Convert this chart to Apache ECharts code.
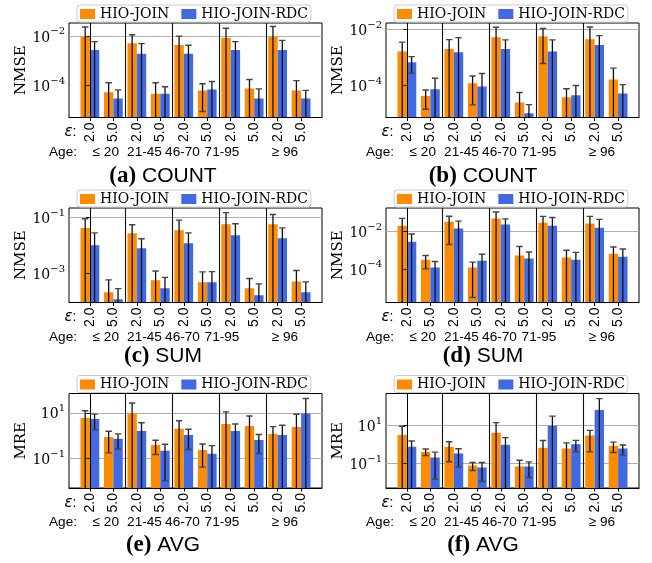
<!DOCTYPE html>
<html><head><meta charset="utf-8">
<script src="https://cdn.jsdelivr.net/npm/echarts@6/dist/echarts.min.js"></script>
<style>html,body{margin:0;padding:0;background:#fff}#c{width:652px;height:563px}</style>
</head><body><div id="c"></div>
<script>
// ---------- data ----------
const methods = ['HIO-JOIN', 'HIO-JOIN-RDC'];
const epsLabels = ['2.0','5.0','2.0','5.0','2.0','5.0','2.0','5.0','2.0','5.0'];
const ageGroups = ['\u2264 20','21-45','46-70','71-95','\u2265 96'];
const panelLetters = ['(a)','(b)','(c)','(d)','(e)','(f)'];
const panelTitles = ['COUNT','COUNT','SUM','SUM','AVG','AVG'];
const yNames = ['NMSE','NMSE','NMSE','NMSE','MRE','MRE'];

// (a) COUNT
const aOrange    = [9.3e-3, 5.4e-5, 5.0e-3, 4.7e-5, 4.3e-3, 6.3e-5, 8.3e-3, 7.6e-5, 9.3e-3, 6.3e-5];
const aOrangeErr = [1.36e-2, 7.5e-5, 6.2e-3, 8.2e-5, 5.5e-3, 5.4e-5, 1.21e-2, 9.8e-5, 1.47e-2, 9.5e-5];
const aBlue      = [2.7e-3, 3.0e-5, 1.9e-3, 4.7e-5, 1.9e-3, 6.9e-5, 2.7e-3, 3.0e-5, 2.7e-3, 3.0e-5];
const aBlueErr   = [3.2e-3, 3.65e-5, 3.0e-3, 4.2e-5, 2.27e-3, 7.6e-5, 3.2e-3, 4.3e-5, 3.9e-3, 3.35e-5];
const aTicks = [1e-2, 1e-4];
const aRange = [Math.pow(10,-5.29), Math.pow(10,-1.48)];

// (b) COUNT
const bOrange    = [1.6e-3, 4.1e-5, 1.95e-3, 1.17e-4, 5.1e-3, 2.45e-5, 5.6e-3, 3.7e-5, 4.4e-3, 1.62e-4];
const bOrangeErr = [1.85e-3, 2.7e-5, 2.3e-3, 9.7e-5, 6.6e-3, 3.05e-5, 5.0e-3, 3.8e-5, 7.6e-3, 2.45e-4];
const bBlue      = [6.6e-4, 7.2e-5, 1.5e-3, 9.1e-5, 1.95e-3, 1.0e-5, 1.6e-3, 4.4e-5, 2.7e-3, 5.1e-5];
const bBlueErr   = [3.9e-4, 1.06e-4, 3.5e-3, 1.7e-4, 2.2e-3, 1.04e-5, 2.55e-3, 5.4e-5, 3.2e-3, 5.4e-5];
const bTicks = [1e-2, 1e-4];
const bRange = [Math.pow(10,-5.15), Math.pow(10,-1.78)];

// (c) SUM
const cOrange    = [4.2e-2, 2.1e-4, 2.75e-2, 5.6e-4, 3.5e-2, 4.8e-4, 5.75e-2, 2.9e-4, 5.75e-2, 5.1e-4];
const cOrangeErr = [4.95e-2, 3.7e-4, 2.8e-2, 6.4e-4, 4.65e-2, 6.4e-4, 9.4e-2, 3.6e-4, 7.1e-2, 7.5e-4];
const cBlue      = [1.02e-2, 1.17e-4, 7.9e-3, 2.9e-4, 1.2e-2, 4.8e-4, 2.3e-2, 1.62e-4, 1.82e-2, 2.1e-4];
const cBlueErr   = [1.8e-2, 1.65e-4, 9.5e-3, 4.2e-4, 1.62e-2, 6.7e-4, 3.7e-2, 2.55e-4, 2.45e-2, 2.8e-4];
const cTicks = [1e-1, 1e-3];
const cRange = [Math.pow(10,-4.05), Math.pow(10,-0.655)];

// (d) SUM
const dOrange    = [2.0e-2, 3.1e-4, 3.3e-2, 1.17e-4, 4.9e-2, 5.1e-4, 2.9e-2, 4.0e-4, 2.6e-2, 6.5e-4];
const dOrangeErr = [2.9e-2, 2.1e-4, 3.1e-2, 1.14e-4, 5.8e-2, 1.04e-3, 3.4e-2, 5.8e-4, 3.7e-2, 8.3e-4];
const dBlue      = [2.8e-3, 1.17e-4, 1.41e-2, 2.75e-4, 2.3e-2, 3.55e-4, 2.0e-2, 3.1e-4, 1.58e-2, 4.5e-4];
const dBlueErr   = [4.4e-3, 1.33e-4, 2.1e-2, 3.3e-4, 2.35e-2, 4.4e-4, 3.5e-2, 4.5e-4, 2.8e-2, 7.0e-4];
const dTicks = [1e-2, 1e-4];
const dRange = [Math.pow(10,-5.79), Math.pow(10,-0.755)];

// (e) AVG
const eOrange    = [5.9, 0.85, 9.8, 0.38, 1.95, 0.23, 3.16, 2.63, 1.17, 2.34];
const eOrangeErr = [6.4, 0.68, 17, 0.237, 2.5, 0.19, 7.8, 4.6, 1.28, 6.2];
const eBlue      = [5.25, 0.71, 1.58, 0.21, 1.05, 0.155, 1.58, 0.63, 1.05, 9.3];
const eBlueErr   = [3.5, 0.46, 2.05, 0.2, 0.81, 0.2, 1.6, 0.47, 1.77, 33];
const eTicks = [1e1, 1e-1];
const eRange = [Math.pow(10,-2.32), Math.pow(10,1.85)];

// (f) AVG
const fOrange    = [3.1, 0.41, 0.74, 0.076, 4.0, 0.068, 0.66, 0.59, 2.9, 0.83];
const fOrangeErr = [5.8, 0.155, 0.62, 0.034, 9.8, 0.077, 0.92, 0.6, 2.5, 0.46];
const fBlue      = [0.74, 0.2, 0.324, 0.06, 0.933, 0.068, 9.55, 1.0, 63, 0.59];
const fBlueErr   = [0.75, 0.185, 0.26, 0.049, 1.3, 0.05, 20.6, 0.6, 188, 0.32];
const fTicks = [1e1, 1e-1];
const fRange = [Math.pow(10,-2.30), Math.pow(10,2.67)];

// ---------- layout ----------
const panels = [
  {o:aOrange, oe:aOrangeErr, b:aBlue, be:aBlueErr, ticks:aTicks, range:aRange},
  {o:bOrange, oe:bOrangeErr, b:bBlue, be:bBlueErr, ticks:bTicks, range:bRange},
  {o:cOrange, oe:cOrangeErr, b:cBlue, be:cBlueErr, ticks:cTicks, range:cRange},
  {o:dOrange, oe:dOrangeErr, b:dBlue, be:dBlueErr, ticks:dTicks, range:dRange},
  {o:eOrange, oe:eOrangeErr, b:eBlue, be:eBlueErr, ticks:eTicks, range:eRange},
  {o:fOrange, oe:fOrangeErr, b:fBlue, be:fBlueErr, ticks:fTicks, range:fRange}
];
const colors = ['#FF8C00', '#4169E1'];
const colLeft = [69, 386], colCenter = [163, 483];
const rowTop = [23, 208, 393.5], captionY = [176, 356, 545];
const plotW = 253, plotH = 94.5;
const xRange = [-0.89, 9.89];
const barW = 0.4;
const sepX = [1.5, 3.5, 5.5, 7.5];
const ageOffsets = [36.8, 75.5, 113.5, 153, 216];
const xIdx = epsLabels.map((_, i) => i);

const serif = 'DejaVu Serif';
const sans = 'Liberation Sans';

function supLabel(v) {
  const e = Math.round(Math.log10(v));
  return '{b|10}{s|' + (e < 0 ? '\u2212' + (-e) : e) + '}';
}

function makeRender(offset, color) {
  return function (params, api) {
    const i = api.value(0), v = api.value(1), e = api.value(2);
    const cs = params.coordSys;
    const bottom = cs.y + cs.height;
    const c = api.coord([i + offset, v]);
    const unit = api.coord([1, v])[0] - api.coord([0, v])[0];
    const hw = unit * barW / 2;
    const hi = api.coord([i + offset, v + e])[1];
    const hasLo = v - e > 0;
    const lo = hasLo ? api.coord([i + offset, v - e])[1] : bottom + 10;
    const cap = 3.2;
    const kids = [
      {type:'rect', shape:{x:c[0]-hw, y:c[1], width:2*hw, height:bottom-c[1]}, style:{fill:color}},
      {type:'line', z2:5, shape:{x1:c[0], y1:hi, x2:c[0], y2:lo}, style:{stroke:'#111', lineWidth:1.3}},
      {type:'line', z2:5, shape:{x1:c[0]-cap, y1:hi, x2:c[0]+cap, y2:hi}, style:{stroke:'#444', lineWidth:1.4}}
    ];
    if (hasLo) kids.push({type:'line', z2:5, shape:{x1:c[0]-cap, y1:lo, x2:c[0]+cap, y2:lo}, style:{stroke:'#444', lineWidth:1.4}});
    return {type:'group', children:kids};
  };
}

const grids = [], xAxes = [], yAxes = [], series = [], legends = [], graphics = [];
panels.forEach((p, k) => {
  const col = k % 2, row = Math.floor(k / 2);
  const left = colLeft[col], top = rowTop[row];
  grids.push({left:left, top:top, width:plotW, height:plotH, show:true, borderColor:'#000', borderWidth:1, containLabel:false});
  xAxes.push({
    gridIndex:k, type:'value', min:xRange[0], max:xRange[1], z:3,
    axisLine:{show:true, lineStyle:{color:'#000', width:1}},
    axisTick:{show:true, customValues:xIdx, length:3.5, lineStyle:{color:'#000', width:1}},
    axisLabel:{customValues:xIdx, rotate:90, margin:5, color:'#000', fontFamily:sans, fontSize:14,
      formatter: v => epsLabels[Math.round(v)] || ''},
    splitLine:{show:false}
  });
  yAxes.push({
    gridIndex:k, type:'log', logBase:10, min:p.range[0], max:p.range[1], z:3,
    name:yNames[k], nameLocation:'middle', nameGap:40,
    nameTextStyle:{fontFamily:serif, fontSize:15, color:'#000'},
    axisLine:{show:true, lineStyle:{color:'#000', width:1}},
    axisTick:{show:true, customValues:p.ticks, length:3.5, lineStyle:{color:'#000', width:1}},
    axisLabel:{customValues:p.ticks, margin:4, color:'#000', formatter:supLabel,
      rich:{
        b:{fontFamily:serif, fontSize:14, lineHeight:18, verticalAlign:'bottom', color:'#000'},
        s:{fontFamily:serif, fontSize:10, lineHeight:10, verticalAlign:'top', color:'#000'}
      }},
    splitLine:{show:false}, minorTick:{show:false}
  });
  [[p.o, p.oe], [p.b, p.be]].forEach((pair, m) => {
    const s = {
      type:'custom', name:methods[m], xAxisIndex:k, yAxisIndex:k, z:2, clip:true,
      itemStyle:{color:colors[m]},
      encode:{x:0, y:1},
      data: pair[0].map((v, i) => [i, v, pair[1][i]]),
      renderItem: makeRender(m === 0 ? -barW/2 : barW/2, colors[m])
    };
    if (m === 0) {
      s.markLine = {
        silent:true, symbol:'none', z:1, animation:false,
        data: p.ticks.map(t => ({yAxis:t, lineStyle:{color:'#b0b0b0', width:1.2, type:'solid'}, label:{show:false}}))
          .concat(sepX.map(x => ({xAxis:x, lineStyle:{color:'#111', width:1.1, type:'solid'}, label:{show:false}})))
      };
    }
    series.push(s);
  });
  legends.push({
    left:left + 8, top:top - 18, orient:'horizontal', data:methods, selectedMode:false,
    itemWidth:15, itemHeight:10, itemGap:12, icon:'rect',
    textStyle:{fontFamily:serif, fontSize:14, color:'#000'},
    borderColor:'#ccc', borderWidth:1, borderRadius:3, padding:[2,3,1,3],
    backgroundColor:'rgba(255,255,255,0.8)'
  });
  const bottom = top + plotH;
  graphics.push({type:'text', x:left + 7.5, y:bottom + 15,
    style:{text:'{i|\u03b5}:', align:'right', verticalAlign:'middle', fontFamily:sans, fontSize:14, fill:'#000',
      rich:{i:{fontFamily:'DejaVu Sans', fontStyle:'italic', fontSize:15}}}});
  graphics.push({type:'text', x:left - 20, y:bottom + 34.5,
    style:{text:'Age:', align:'left', verticalAlign:'middle', fontFamily:sans, fontSize:13.6, fill:'#000'}});
  ageGroups.forEach((g, j) => {
    graphics.push({type:'text', x:left + ageOffsets[j], y:bottom + 34.5,
      style:{text:g, align:'center', verticalAlign:'middle', fontFamily:sans, fontSize:13.6, fill:'#000'}});
  });
  graphics.push({type:'text', x:colCenter[col], y:captionY[row],
    style:{text:'{b|' + panelLetters[k] + '} {t|' + panelTitles[k] + '}', align:'center', verticalAlign:'middle',
      fontFamily:sans, fontSize:21, fill:'#000',
      rich:{b:{fontFamily:'Liberation Serif', fontWeight:'bold', fontSize:23}, t:{fontFamily:sans, fontSize:21}}}});
});

const chart = echarts.init(document.getElementById('c'), null, {renderer:'canvas', devicePixelRatio:1});
chart.setOption({
  animation:false, backgroundColor:'#fff',
  grid:grids, xAxis:xAxes, yAxis:yAxes, series:series, legend:legends, graphic:graphics
});
</script></body></html>
